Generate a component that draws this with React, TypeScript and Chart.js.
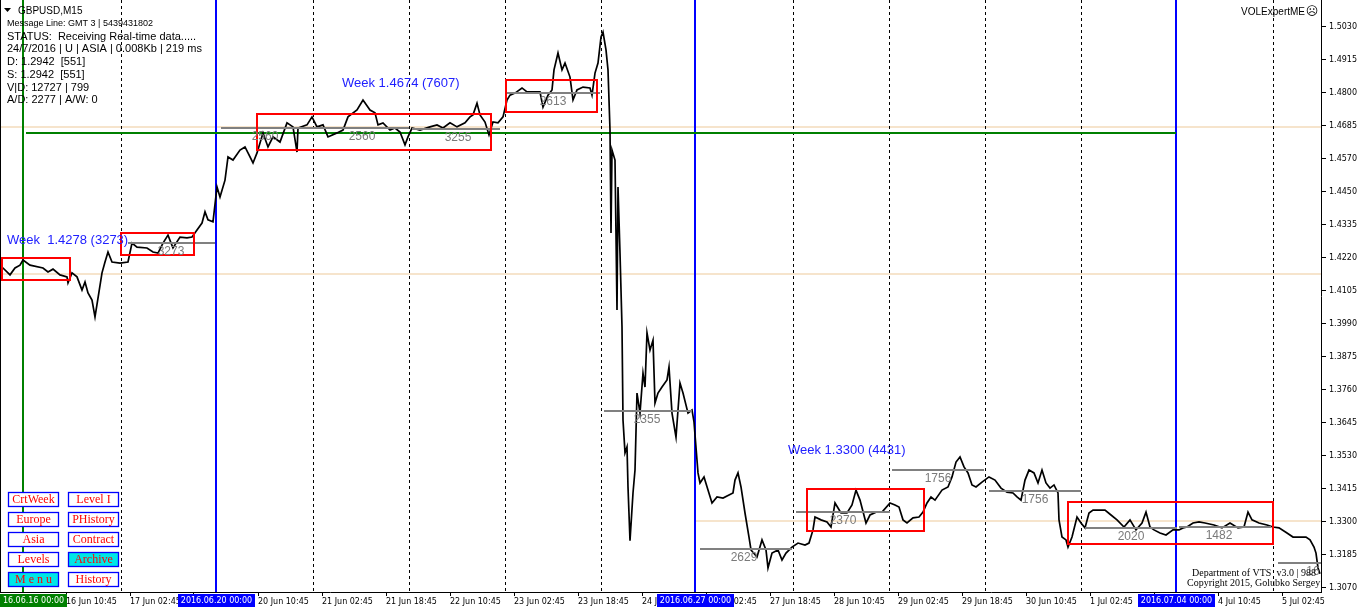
import React, { useEffect, useRef } from "react";
import { Chart, registerables } from "chart.js";

Chart.register(...registerables);

// ---------------- data ----------------
const priceTop = 1.51243;
const priceBottom = 1.3056;
const barsVisible = 1321;

const yTickLabels = ["1.5030", "1.4915", "1.4800", "1.4685", "1.4570", "1.4450", "1.4335", "1.4220", "1.4105", "1.3990", "1.3875", "1.3760", "1.3645", "1.3530", "1.3415", "1.3300", "1.3185", "1.3070"];
const yTickTop = 1.503;
const yTickBottom = 1.307;

const xTickBars = [66, 130, 194, 258, 322, 386, 450, 514, 578, 642, 706, 770, 834, 898, 962, 1026, 1090, 1154, 1218, 1282];
const xTickLabels = ["16 Jun 10:45", "17 Jun 02:45", "17 Jun 18:45", "20 Jun 10:45", "21 Jun 02:45", "21 Jun 18:45", "22 Jun 10:45", "23 Jun 02:45", "23 Jun 18:45", "24 Jun 10:45", "27 Jun 02:45", "27 Jun 18:45", "28 Jun 10:45", "29 Jun 02:45", "29 Jun 18:45", "30 Jun 10:45", "1 Jul 02:45", "1 Jul 18:45", "4 Jul 10:45", "5 Jul 02:45"];

const daySeparatorBars = [121, 313, 409, 505, 601, 793, 889, 985, 1081, 1273];
const weekStartBars = [216, 695, 1176];
const weekStartLabels = ["2016.06.20 00:00", "2016.06.27 00:00", "2016.07.04 00:00"];
const markerBar = 23;
const markerLabel = "16.06.16 00:00";

// close prices, [bar, price]
const wk24: [number, number][] = [[1, 1.4188], [3, 1.4188], [10, 1.4164], [15, 1.4188], [20, 1.4198], [23, 1.4216], [30, 1.4198], [43, 1.4188], [48, 1.4174], [53, 1.4184], [60, 1.4164], [67, 1.4157], [68, 1.4136], [72, 1.4171], [77, 1.4157], [82, 1.4111], [85, 1.4139], [88, 1.4101], [92, 1.4076], [95, 1.4017], [98, 1.4083], [102, 1.4171], [105, 1.4209], [108, 1.4244], [112, 1.4209], [120, 1.4205], [128, 1.4209], [132, 1.4275], [137, 1.4261], [147, 1.4258], [153, 1.4244], [158, 1.424], [163, 1.4275], [168, 1.4303], [173, 1.4258], [180, 1.4296], [187, 1.4293], [192, 1.4296], [197, 1.4321], [202, 1.4345], [205, 1.4384], [208, 1.4356], [213, 1.4349]];
const wk25: [number, number][] = [[217, 1.4471], [220, 1.4436], [225, 1.4495], [228, 1.4576], [233, 1.4565], [240, 1.46], [245, 1.4611], [248, 1.459], [253, 1.4555], [257, 1.459], [263, 1.466], [268, 1.4611], [273, 1.4646], [280, 1.4628], [287, 1.4695], [293, 1.4681], [297, 1.4593], [298, 1.4677], [307, 1.4688], [312, 1.4716], [317, 1.4681], [323, 1.4688], [328, 1.4646], [337, 1.466], [343, 1.467], [348, 1.4716], [357, 1.474], [363, 1.4775], [370, 1.474], [375, 1.473], [378, 1.4688], [383, 1.4695], [390, 1.467], [395, 1.4677], [400, 1.4663], [405, 1.4618], [408, 1.4646], [412, 1.4677], [420, 1.467], [430, 1.4681], [437, 1.4688], [443, 1.4677], [450, 1.4695], [457, 1.4681], [465, 1.4695], [470, 1.4716], [473, 1.4723], [477, 1.4764], [480, 1.4723], [485, 1.4698], [489, 1.4653], [493, 1.4698], [498, 1.4695], [503, 1.4716], [507, 1.4775], [510, 1.4792], [515, 1.4799], [522, 1.4817], [527, 1.4803], [540, 1.4803], [543, 1.475], [548, 1.4792], [552, 1.481], [554, 1.488], [558, 1.4939], [562, 1.488], [565, 1.4904], [570, 1.4855], [573, 1.4775], [577, 1.481], [583, 1.482], [590, 1.4817], [592, 1.4792], [595, 1.4869], [598, 1.4904], [601, 1.4995], [603, 1.5012], [606, 1.495], [608, 1.488], [610, 1.467], [611, 1.431], [612, 1.46], [615, 1.4565], [617, 1.4041], [618, 1.4471], [620, 1.424], [622, 1.3982], [623, 1.3657], [625, 1.3542], [627, 1.3563], [628, 1.3423], [630, 1.3235], [633, 1.3402], [635, 1.3482], [637, 1.3751], [640, 1.3681], [643, 1.3821], [645, 1.3772], [647, 1.3961], [650, 1.3901], [653, 1.3936], [655, 1.3716], [658, 1.3751], [662, 1.3772], [667, 1.3797], [669, 1.3842], [672, 1.3681], [676, 1.3597], [680, 1.3786], [683, 1.3751], [688, 1.3681], [692, 1.3692], [694, 1.365]];
const wk26: [number, number][] = [[698, 1.3472], [700, 1.3437], [704, 1.3458], [708, 1.3412], [712, 1.3367], [717, 1.3388], [723, 1.3384], [729, 1.3395], [733, 1.3402], [735, 1.3447], [738, 1.3472], [741, 1.3423], [745, 1.3332], [749, 1.3248], [751, 1.3203], [757, 1.3178], [762, 1.3238], [766, 1.3203], [768, 1.314], [772, 1.3192], [778, 1.3203], [782, 1.3168], [786, 1.3192], [792, 1.3213], [798, 1.3227], [805, 1.322], [809, 1.3227], [813, 1.3273], [815, 1.3318], [821, 1.3308], [827, 1.3301], [831, 1.3283], [835, 1.3367], [841, 1.3332], [847, 1.3332], [852, 1.336], [856, 1.3412], [860, 1.3377], [866, 1.3297], [870, 1.3325], [876, 1.3335], [882, 1.3335], [890, 1.3367], [895, 1.336], [899, 1.3353], [903, 1.3308], [907, 1.3297], [913, 1.3315], [919, 1.3318], [923, 1.3335], [927, 1.3367], [931, 1.3388], [935, 1.3377], [942, 1.3412], [948, 1.3423], [952, 1.3458], [956, 1.351], [960, 1.3528], [964, 1.3493], [968, 1.3472], [972, 1.343], [976, 1.3423], [982, 1.344], [989, 1.3458], [995, 1.3447], [1001, 1.3419], [1007, 1.3405], [1013, 1.3402], [1017, 1.3388], [1021, 1.3377], [1025, 1.3447], [1029, 1.3482], [1034, 1.3472], [1038, 1.3437], [1042, 1.3482], [1046, 1.3437], [1050, 1.3419], [1054, 1.343], [1058, 1.3402], [1059, 1.3308], [1062, 1.3248], [1066, 1.3238], [1068, 1.3213], [1072, 1.3248], [1077, 1.3318], [1081, 1.3297], [1085, 1.328], [1089, 1.3332], [1093, 1.3342], [1099, 1.3342], [1105, 1.3342], [1111, 1.3325], [1117, 1.3308], [1124, 1.3283], [1130, 1.3308], [1136, 1.3273], [1142, 1.3297], [1146, 1.3335], [1150, 1.3283], [1154, 1.3273], [1160, 1.3262], [1166, 1.3255], [1173, 1.3273]];
const wk27: [number, number][] = [[1179, 1.3273], [1183, 1.328], [1187, 1.3283], [1193, 1.3297], [1199, 1.3301], [1205, 1.3297], [1214, 1.329], [1222, 1.328], [1230, 1.3297], [1238, 1.328], [1244, 1.3283], [1248, 1.3335], [1252, 1.3308], [1259, 1.3297], [1267, 1.329], [1273, 1.3283], [1279, 1.328], [1287, 1.3262], [1293, 1.3248], [1299, 1.3248], [1306, 1.3248], [1310, 1.3238], [1314, 1.3213], [1316, 1.3192], [1318, 1.314], [1320, 1.312]];

// session boxes: [startBar, endBar, highPrice, lowPrice]
const sessionBoxes: [number, number, number, number][] = [[2, 70, 1.4223, 1.4146], [121, 194, 1.431, 1.4233], [257, 491, 1.4726, 1.46], [506, 597, 1.4845, 1.4733], [807, 924, 1.3416, 1.3269], [1068, 1273, 1.337, 1.3224]];

// daily volume levels
const levelStartBars = [128, 221, 313, 412, 507, 604, 700, 796, 892, 989, 1085, 1179, 1278];
const levelEndBars = [215, 313, 409, 500, 600, 692, 792, 890, 984, 1081, 1177, 1271, 1330];
const levelPrices = [1.4276, 1.4677, 1.4677, 1.4674, 1.4799, 1.3688, 1.3206, 1.3335, 1.3482, 1.3409, 1.328, 1.3283, 1.3157];
const levelLabels = ["3273", "2560", "2560", "3255", "2613", "2355", "2629", "2370", "1756", "1756", "2020", "1482", "16"];
const levelLabelBars = [171, 265, 362, 458, 553, 647, 744, 843, 938, 1035, 1131, 1219, 1313];

// weekly labels
const weekLabelTexts = ["Week  1.4278 (3273)", "Week 1.4674 (7607)", "Week 1.3300 (4431)"];
const weekLabelBars = [7, 342, 788];
const weekLabelPrices = [1.4286, 1.4834, 1.3549];

// reference levels
const greenLevelPrice = 1.466;
const greenLevelStartBar = 26;
const greenLevelEndBar = 1176;
const beigeLevelPrices = [1.4681, 1.4167, 1.3304];
const beigeLevelStartBars = [0, 0, 695];

const infoLines = ["Message Line: GMT 3 | 5439431802", "STATUS:  Receiving Real-time data.....", "24/7/2016 | U | ASIA | 0.008Kb | 219 ms", "D: 1.2942  [551]", "S: 1.2942  [551]", "V|D: 12727 | 799", "A/D: 2277 | A/W: 0"];
const buttonsLeft = ["CrtWeek", "Europe", "Asia", "Levels", "M e n u"];
const buttonsRight = ["Level I", "PHistory", "Contract", "Archive", "History"];
const activeButtons = ["Archive", "M e n u"];

// ---------------- drawing ----------------
const SANS = "'Liberation Sans', Arial, sans-serif";
const AXIS = "'DejaVu Sans', sans-serif";
const SERIF = "'Liberation Serif', 'Times New Roman', serif";

function seg(ctx: CanvasRenderingContext2D, x1: number, y1: number, x2: number, y2: number) {
  ctx.beginPath();
  ctx.moveTo(x1, y1);
  ctx.lineTo(x2, y2);
  ctx.stroke();
}

const overlayPlugin = {
  id: "mtOverlay",
  beforeDatasetsDraw(chart: any) {
    const { ctx, chartArea: a } = chart;
    const xs = chart.scales.x;
    const ys = chart.scales.y;
    const px = (b: number) => xs.getPixelForValue(b);
    const py = (p: number) => ys.getPixelForValue(p);
    ctx.save();
    ctx.beginPath();
    ctx.rect(a.left, a.top, a.right - a.left, a.bottom - a.top);
    ctx.clip();

    ctx.strokeStyle = "#f6e4cc";
    ctx.lineWidth = 2;
    beigeLevelPrices.forEach((p, i) => {
      const yy = Math.round(py(p));
      seg(ctx, px(beigeLevelStartBars[i]), yy, a.right, yy);
    });

    ctx.strokeStyle = "#000";
    ctx.lineWidth = 1;
    ctx.setLineDash([3, 3]);
    daySeparatorBars.forEach((b) => {
      const xx = Math.round(px(b)) + 0.5;
      seg(ctx, xx, a.top, xx, a.bottom);
    });
    ctx.setLineDash([]);

    ctx.strokeStyle = "#0000ff";
    ctx.lineWidth = 2;
    weekStartBars.forEach((b) => {
      const xx = Math.round(px(b));
      seg(ctx, xx, a.top, xx, a.bottom);
    });

    ctx.strokeStyle = "#008000";
    ctx.lineWidth = 2;
    const mx = Math.round(px(markerBar));
    seg(ctx, mx, a.top, mx, a.bottom);
    const gy = Math.round(py(greenLevelPrice));
    seg(ctx, px(greenLevelStartBar), gy, px(greenLevelEndBar), gy);
    ctx.restore();
  },
  afterDatasetsDraw(chart: any) {
    const { ctx, chartArea: a } = chart;
    const xs = chart.scales.x;
    const ys = chart.scales.y;
    const px = (b: number) => xs.getPixelForValue(b);
    const py = (p: number) => ys.getPixelForValue(p);
    ctx.save();
    ctx.beginPath();
    ctx.rect(a.left, a.top, a.right - a.left, a.bottom - a.top);
    ctx.clip();

    // daily levels
    ctx.strokeStyle = "#808080";
    ctx.lineWidth = 2;
    levelPrices.forEach((p, i) => {
      const yy = Math.round(py(p));
      seg(ctx, px(levelStartBars[i]), yy, px(levelEndBars[i]), yy);
    });

    // session boxes
    ctx.strokeStyle = "#ff0000";
    ctx.lineWidth = 2;
    sessionBoxes.forEach(([b1, b2, hi, lo]) => {
      const x1 = Math.round(px(b1));
      const x2 = Math.round(px(b2));
      const y1 = Math.round(py(hi));
      const y2 = Math.round(py(lo));
      ctx.strokeRect(x1, y1, x2 - x1, y2 - y1);
    });

    ctx.fillStyle = "#7a7a7a";
    ctx.font = `12px ${SANS}`;
    ctx.textAlign = "center";
    ctx.textBaseline = "middle";
    levelLabels.forEach((t, i) => {
      ctx.fillText(t, px(levelLabelBars[i]), py(levelPrices[i]) + 9);
    });

    ctx.fillStyle = "#2020ff";
    ctx.font = `13px ${SANS}`;
    ctx.textAlign = "left";
    weekLabelTexts.forEach((t, i) => {
      ctx.fillText(t, px(weekLabelBars[i]), py(weekLabelPrices[i]));
    });

    // header texts
    ctx.fillStyle = "#000";
    ctx.beginPath();
    ctx.moveTo(4, 8);
    ctx.lineTo(11, 8);
    ctx.lineTo(7.5, 12);
    ctx.closePath();
    ctx.fill();
    ctx.font = `10px ${SANS}`;
    ctx.fillText("GBPUSD,M15", 18, 11);
    infoLines.forEach((t, i) => {
      ctx.font = i === 0 ? `9px ${SANS}` : `11px ${SANS}`;
      ctx.fillText(t, 7, 24 + i * 12.7);
    });

    ctx.font = `10px ${SANS}`;
    ctx.textAlign = "right";
    ctx.fillText("VOLExpertME", 1305, 12);
    ctx.textAlign = "center";
    ctx.font = `12px 'DejaVu Sans', sans-serif`;
    ctx.fillText("\u2639", 1312, 12);

    ctx.textAlign = "left";
    ctx.font = `10px ${SERIF}`;
    ctx.fillText("Department of VTS  v3.0 | 988", 1192, 573);
    ctx.fillText("Copyright 2015, Golubko Sergey", 1187, 583);

    // buttons
    const cols = [8, 68];
    [buttonsLeft, buttonsRight].forEach((list, c) => {
      list.forEach((t, r) => {
        const bx = cols[c];
        const by = 492 + r * 20;
        ctx.fillStyle = activeButtons.includes(t) ? "#00e6e6" : "#ffffff";
        ctx.fillRect(bx, by, 50, 14);
        ctx.strokeStyle = "#0000ff";
        ctx.lineWidth = 1.3;
        ctx.strokeRect(bx + 0.5, by + 0.5, 50, 14);
        ctx.fillStyle = "#ff0000";
        ctx.font = `12px ${SERIF}`;
        ctx.textAlign = "center";
        ctx.fillText(t, bx + 25.5, by + 8);
      });
    });
    ctx.restore();

    ctx.save();
    ctx.strokeStyle = "#000";
    ctx.lineWidth = 1;
    seg(ctx, 0.5, 0, 0.5, a.bottom);
    ctx.restore();
  },
  afterDraw(chart: any) {
    const { ctx } = chart;
    const xs = chart.scales.x;
    ctx.save();
    ctx.font = `8px ${AXIS}`;
    ctx.textBaseline = "middle";
    ctx.textAlign = "center";
    const box = (bar: number, text: string, color: string) => {
      const w = Math.round(ctx.measureText(text).width + 6);
      let l = Math.round(xs.getPixelForValue(bar) - w / 2);
      if (l < 0) l = 0;
      ctx.fillStyle = color;
      ctx.fillRect(l, 594, w, 13);
      ctx.fillStyle = "#ffffff";
      ctx.fillText(text, l + w / 2, 601);
    };
    box(markerBar, markerLabel, "#008000");
    weekStartBars.forEach((b, i) => box(b, weekStartLabels[i], "#0000ff"));
    ctx.restore();
  },
};

export default function App() {
  const canvasRef = useRef<HTMLCanvasElement | null>(null);

  useEffect(() => {
    document.body.style.margin = "0";
    const series = [...wk24, ...wk25, ...wk26, ...wk27].map(([x, y]) => ({ x, y }));
    const chart = new Chart(canvasRef.current as HTMLCanvasElement, {
      type: "line",
      data: {
        datasets: [
          {
            data: series,
            borderColor: "#000000",
            borderWidth: 1.7,
            pointRadius: 0,
            tension: 0,
            fill: false,
          },
        ],
      },
      options: {
        animation: false,
        responsive: false,
        maintainAspectRatio: false,
        events: [],
        layout: { padding: 0 },
        plugins: { legend: { display: false }, tooltip: { enabled: false }, title: { display: false } },
        scales: {
          x: {
            type: "linear",
            position: "bottom",
            min: 0,
            max: barsVisible,
            afterBuildTicks: (s: any) => {
              s.ticks = xTickBars.map((v) => ({ value: v }));
            },
            afterFit: (s: any) => {
              s.height = 20;
              s.paddingLeft = 0;
              s.paddingRight = 0;
            },
            ticks: {
              autoSkip: false,
              maxRotation: 0,
              minRotation: 0,
              align: "start",
              padding: 1,
              color: "#000",
              font: { family: AXIS, size: 8 },
              callback: (_v: any, i: number) => xTickLabels[i],
            },
            grid: { drawOnChartArea: false, drawTicks: true, tickLength: 4, color: "#000", lineWidth: 1 },
            border: { display: true, color: "#000", width: 1 },
          },
          y: {
            type: "linear",
            position: "right",
            min: priceBottom,
            max: priceTop,
            afterBuildTicks: (s: any) => {
              s.ticks = yTickLabels.map((_, i) => ({
                value: yTickTop - ((yTickTop - yTickBottom) * i) / (yTickLabels.length - 1),
              }));
            },
            afterFit: (s: any) => {
              s.width = 41;
              s.paddingTop = 0;
              s.paddingBottom = 0;
            },
            ticks: {
              autoSkip: false,
              padding: 3,
              color: "#000",
              font: { family: AXIS, size: 8 },
              callback: (_v: any, i: number) => yTickLabels[i],
            },
            grid: { drawOnChartArea: false, drawTicks: true, tickLength: 5, color: "#000", lineWidth: 1 },
            border: { display: true, color: "#000", width: 1 },
          },
        },
      } as any,
      plugins: [overlayPlugin as any],
    });
    return () => chart.destroy();
  }, []);

  return (
    <div style={{ width: 1362, height: 612, background: "#fff" }}>
      <canvas ref={canvasRef} width={1362} height={612} style={{ display: "block" }} />
    </div>
  );
}
